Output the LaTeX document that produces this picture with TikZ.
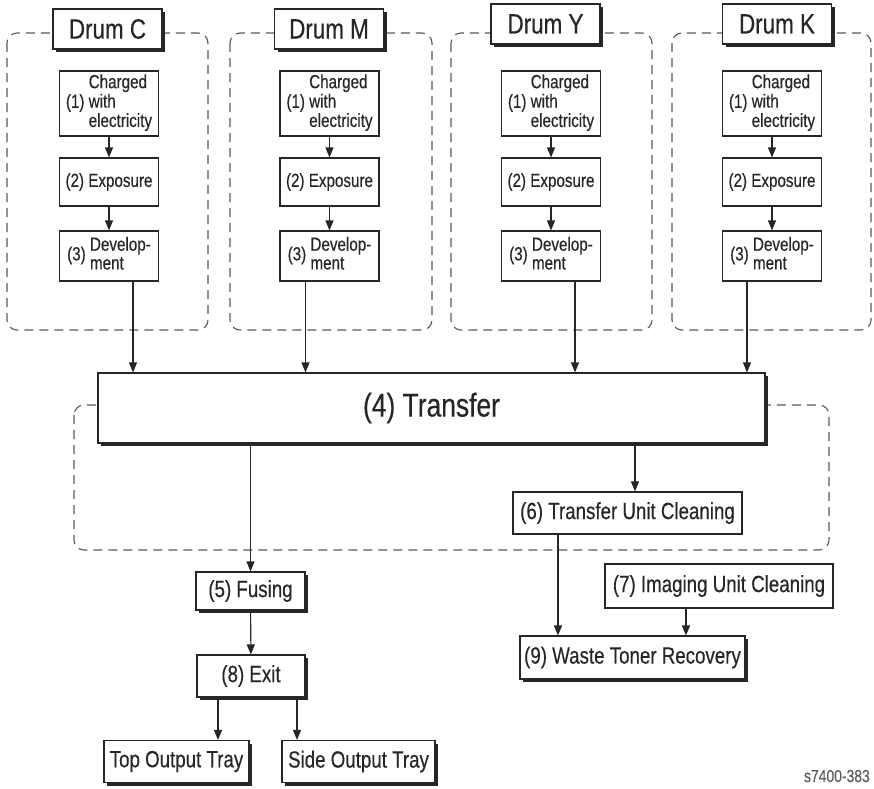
\documentclass[tikz,border=0pt]{standalone}
\usepackage{fontspec}
\setmainfont{Liberation Sans}[FakeStretch=0.8,FakeBold=0.3]
\usetikzlibrary{arrows.meta,shadows}
\definecolor{ink}{HTML}{262626}
\definecolor{dashgray}{HTML}{5A5A5A}

\begin{document}
\begin{tikzpicture}
  [x=1pt,y=-1pt,color=ink,
   box/.style={draw=ink,fill=white,line width=1.1pt,inner sep=0pt,font=\fontsize{19}{18.7}\selectfont},
   sbox/.style={box,drop shadow={shadow xshift=3pt,shadow yshift=-3pt,fill=ink,opacity=1}},
   title/.style={sbox,minimum width=109pt,minimum height=40pt,font=\fontsize{28}{28}\selectfont},
   step1/.style={box,minimum width=99pt,minimum height=65pt},
   step2/.style={box,minimum width=99pt,minimum height=48pt},
   step3/.style={box,minimum width=99pt,minimum height=50pt},
   lower/.style={font=\fontsize{23.4}{24}\selectfont},
   grp/.style={draw=dashgray,dash pattern=on 9pt off 6pt,rounded corners=10pt,line width=1.1pt},
   arr/.style={draw=ink,line width=1.1pt,-{Triangle[width=8pt,length=10pt]}}]
  \useasboundingbox[fill=white] (0,0) rectangle (874,788);

  % dashed groups
  \draw[grp] (7,33) rectangle (208,330);
  \draw[grp] (230,33) rectangle (432,330);
  \draw[grp] (451,33) rectangle (652,330);
  \draw[grp] (672,33) rectangle (871,330);
  \draw[grp] (74,405) rectangle (829,550);

  % drums
  \node[title] (dc) at (107.5,29) {Drum C};
  \node[title] (dm) at (329,29) {Drum M};
  \node[title] (dy) at (545.5,24) {Drum Y};
  \node[title] (dk) at (777,24) {Drum K};

  \node[step1] (c1) at (109,103.5) {(1) \begin{tabular}{@{}l@{}}Charged\\with\\electricity\end{tabular}};
  \node[step2] (c2) at (109,182) {(2) Exposure};
  \node[step3] (c3) at (109,256) {(3) \begin{tabular}{@{}l@{}}Develop-\\ment\end{tabular}};

  \node[step1] (m1) at (329.5,103.5) {(1) \begin{tabular}{@{}l@{}}Charged\\with\\electricity\end{tabular}};
  \node[step2] (m2) at (329.5,182) {(2) Exposure};
  \node[step3] (m3) at (329.5,256) {(3) \begin{tabular}{@{}l@{}}Develop-\\ment\end{tabular}};

  \node[step1] (y1) at (551,103.5) {(1) \begin{tabular}{@{}l@{}}Charged\\with\\electricity\end{tabular}};
  \node[step2] (y2) at (551,182) {(2) Exposure};
  \node[step3] (y3) at (551,256) {(3) \begin{tabular}{@{}l@{}}Develop-\\ment\end{tabular}};

  \node[step1] (k1) at (772,103.5) {(1) \begin{tabular}{@{}l@{}}Charged\\with\\electricity\end{tabular}};
  \node[step2] (k2) at (772,182) {(2) Exposure};
  \node[step3] (k3) at (772,256) {(3) \begin{tabular}{@{}l@{}}Develop-\\ment\end{tabular}};

  % transfer and after
  \node[sbox,minimum width=667pt,minimum height=70pt,font=\fontsize{33}{33}\selectfont] (tr) at (431.5,408) {(4) Transfer};
  \node[sbox,lower,minimum width=109pt,minimum height=38pt] (fu) at (250.5,591) {(5) Fusing};
  \node[sbox,lower,minimum width=108pt,minimum height=42pt] (ex) at (251,676) {(8) Exit};
  \node[sbox,lower,minimum width=145pt,minimum height=42pt] (tt) at (176.5,761.5) {Top Output Tray};
  \node[sbox,lower,minimum width=153pt,minimum height=42pt] (st) at (358.5,761.5) {Side Output Tray};
  \node[box,lower,minimum width=229pt,minimum height=42pt] (tu) at (627.5,513) {(6) Transfer Unit Cleaning};
  \node[box,lower,minimum width=228pt,minimum height=44pt] (iu) at (719,586) {(7) Imaging Unit Cleaning};
  \node[sbox,lower,minimum width=225pt,minimum height=43pt] (wt) at (632.5,657.5) {(9) Waste Toner Recovery};

  \node[anchor=base east,inner sep=0pt,text=dashgray,font=\fontsize{17.4}{17.4}\selectfont] (lbl) at (870,782) {s7400-383};

  % arrows in drums
  \draw[arr] (c1) -- (c2);
  \draw[arr] (c2) -- (c3);
  \draw[arr] (m1) -- (m2);
  \draw[arr] (m2) -- (m3);
  \draw[arr] (y1) -- (y2);
  \draw[arr] (y2) -- (y3);
  \draw[arr] (k1) -- (k2);
  \draw[arr] (k2) -- (k3);

  % into transfer
  \draw[arr] ([xshift=24pt]c3.south) -- ([xshift=24pt]c3.south |- tr.north);
  \draw[arr] ([xshift=-24pt]m3.south) -- ([xshift=-24pt]m3.south |- tr.north);
  \draw[arr] ([xshift=24pt]y3.south) -- ([xshift=24pt]y3.south |- tr.north);
  \draw[arr] ([xshift=-25pt]k3.south) -- ([xshift=-25pt]k3.south |- tr.north);

  % out of transfer
  \draw[arr] (fu.north |- tr.south) -- (fu.north);
  \draw[arr] ([xshift=7.5pt]tu.north |- tr.south) -- ([xshift=7.5pt]tu.north);
  \draw[arr] (fu) -- (ex);
  \draw[arr] ([xshift=-33pt]ex.south) -- ([xshift=-33pt]ex.south |- tt.north);
  \draw[arr] ([xshift=46pt]ex.south) -- ([xshift=46pt]ex.south |- st.north);
  \draw[arr] ([xshift=-69.5pt]tu.south) -- ([xshift=-69.5pt]tu.south |- wt.north);
  \draw[arr] ([xshift=-33pt]iu.south) -- ([xshift=-33pt]iu.south |- wt.north);

\end{tikzpicture}
\end{document}
